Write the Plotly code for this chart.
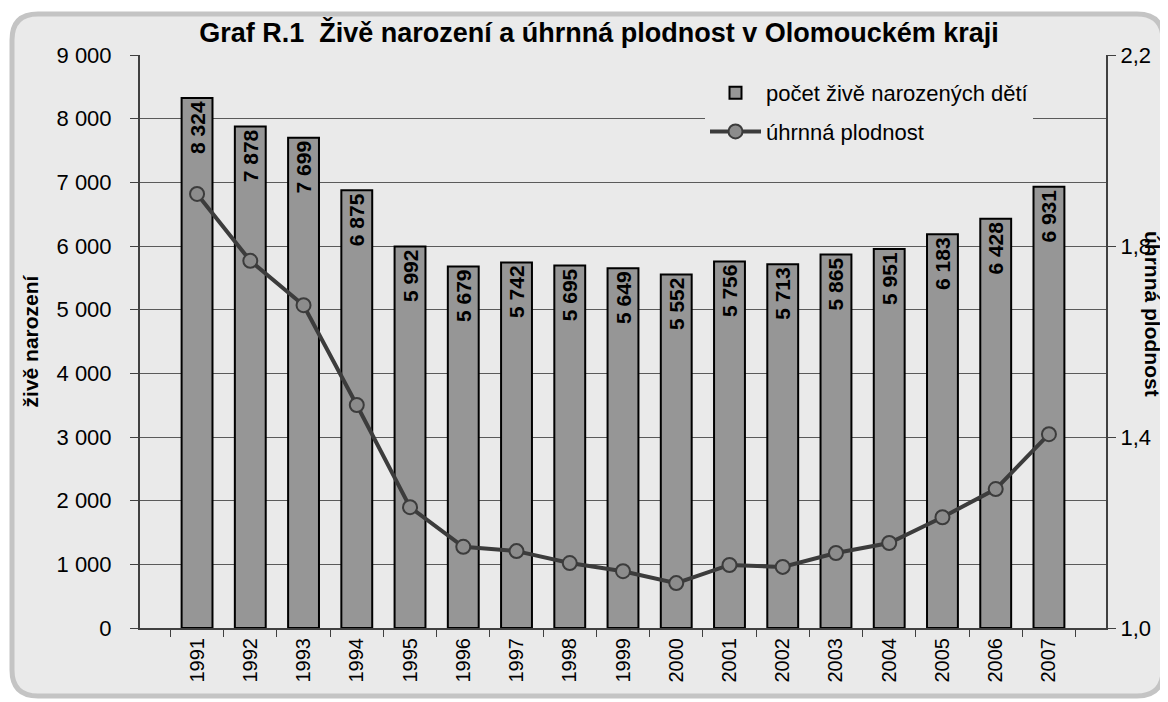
import plotly.graph_objects as go

years = ["1991", "1992", "1993", "1994", "1995", "1996", "1997", "1998", "1999",
         "2000", "2001", "2002", "2003", "2004", "2005", "2006", "2007"]
births = [8324, 7878, 7699, 6875, 5992, 5679, 5742, 5695, 5649,
          5552, 5756, 5713, 5865, 5951, 6183, 6428, 6931]
fertility = [1.909, 1.769, 1.676, 1.467, 1.253, 1.170, 1.161, 1.136, 1.119,
             1.094, 1.132, 1.128, 1.157, 1.178, 1.232, 1.291, 1.406]

title_text = "Graf R.1  Živě narození a úhrnná plodnost v Olomouckém kraji"
bar_name = "počet živě narozených dětí"
line_name = "úhrnná plodnost"
left_title = "živě narození"
right_title = "úhrnná plodnost"

# page body has an 8px margin, so the figure is placed at (8, 8)
OFF = 8
W, H = 1160, 694
L, R, T, B = 132, 62, 47, 74
PW, PH = W - L - R, H - T - B


def fx(x):  # x in screenshot pixels -> paper
    return (x - OFF - L) / PW


def fy(y):  # y in screenshot pixels -> paper
    return (H - B - (y - OFF)) / PH


def label(v):
    return f"{v:,}".replace(",", " ")


fig = go.Figure()
fig.add_trace(go.Bar(
    x=years, y=births, name=bar_name,
    marker=dict(color="#969696", line=dict(color="#000000", width=2)),
    text=[label(v) for v in births], textposition="inside",
    insidetextanchor="end", textangle=-90,
    textfont=dict(family="Arial, Liberation Sans", size=21, color="#000000", weight="bold"),
    legendgroup="a",
))
fig.add_trace(go.Scatter(
    x=years, y=fertility, name=line_name, yaxis="y2", mode="lines+markers",
    line=dict(color="#3c3c3c", width=4),
    marker=dict(size=14, color="#8c8c8c", line=dict(color="#3c3c3c", width=2)),
    legendgroup="b",
))

# rounded frame
lf, rt, tp, bt, rr = 12, 1163, 14, 696, 26
path = (f"M {fx(lf+rr)},{fy(tp)} L {fx(rt-rr)},{fy(tp)} Q {fx(rt)},{fy(tp)} {fx(rt)},{fy(tp+rr)} "
        f"L {fx(rt)},{fy(bt-rr)} Q {fx(rt)},{fy(bt)} {fx(rt-rr)},{fy(bt)} "
        f"L {fx(lf+rr)},{fy(bt)} Q {fx(lf)},{fy(bt)} {fx(lf)},{fy(bt-rr)} "
        f"L {fx(lf)},{fy(tp+rr)} Q {fx(lf)},{fy(tp)} {fx(lf+rr)},{fy(tp)} Z")

font_main = "Arial, Liberation Sans, sans-serif"

fig.update_layout(
    width=W, height=H,
    margin=dict(l=L, r=R, t=T, b=B, autoexpand=False),
    paper_bgcolor="#ffffff",
    plot_bgcolor="rgba(0,0,0,0)",
    separators=", ",
    font=dict(family=font_main, color="#000000"),
    bargap=0.42,
    shapes=[dict(type="path", path=path, xref="paper", yref="paper",
                 fillcolor="#eaeaea", line=dict(color="#c4c4c4", width=5), layer="below")],
    title=dict(text=f"<b>{title_text}</b>", x=(599 - OFF) / W, xref="container", xanchor="center",
               y=1 - (33 - OFF) / H, yref="container", yanchor="middle",
               font=dict(size=27, family=font_main)),
    xaxis=dict(type="category", tickangle=-90, tickfont=dict(size=20),
               ticks="outside", ticklen=7, tickcolor="#404040", tickson="boundaries",
               showline=True, linecolor="#404040", linewidth=2, showgrid=False),
    yaxis=dict(range=[0, 9000], dtick=1000, tickformat=",d", tickfont=dict(size=22),
               ticks="outside", ticklen=8, tickcolor="#404040", ticklabelstandoff=14,
               showline=True, linecolor="#404040", linewidth=2,
               showgrid=True, gridcolor="#5a5a5a", gridwidth=1, zeroline=False,
               title=dict(text=f"<b>{left_title}</b>", font=dict(size=21), standoff=12)),
    yaxis2=dict(range=[1.0, 2.2], dtick=0.4, tick0=1.0, tickformat=".1f", tickfont=dict(size=22),
                overlaying="y", side="right", ticks="outside", ticklen=8, tickcolor="#404040",
                showline=True, linecolor="#404040", linewidth=2, showgrid=False, zeroline=False),
    legend=dict(x=fx(705), y=fy(72), xanchor="left", yanchor="top",
                bgcolor="#eaeaea", font=dict(size=22), traceorder="grouped",
                tracegroupgap=7, itemwidth=51),
    showlegend=True,
    annotations=[dict(text=f"<b>{right_title}</b>", textangle=90, xref="paper", yref="paper",
                      x=fx(1153), y=fy(314), showarrow=False, font=dict(size=21),
                      xanchor="center", yanchor="middle")],
)

fig.write_html("out.html")
